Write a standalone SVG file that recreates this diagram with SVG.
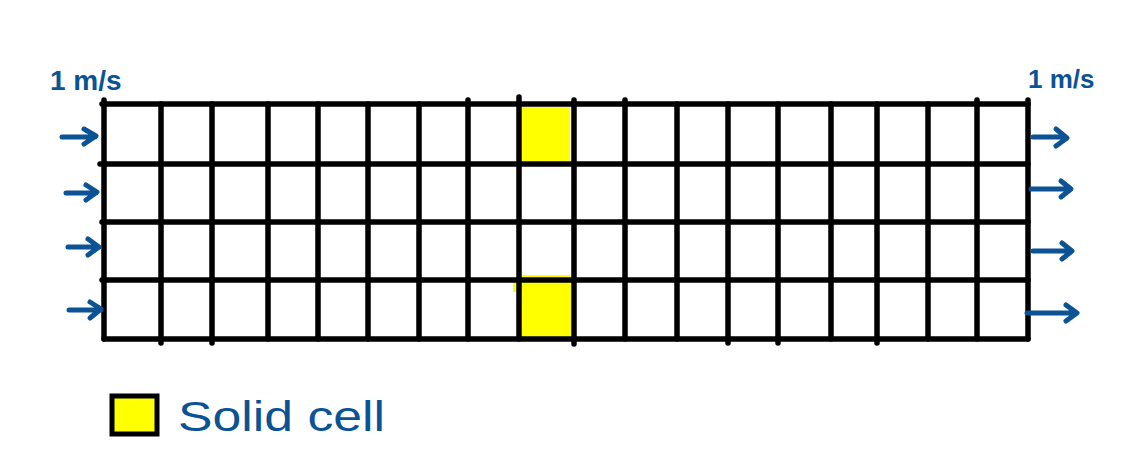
<svg xmlns="http://www.w3.org/2000/svg" width="1121" height="469" viewBox="0 0 1121 469">
<style>
.grid{stroke:#000;stroke-width:5.5;stroke-linecap:round;fill:none}
.solid{fill:#ffff00}
.lbl{font-family:"Liberation Sans",Arial,sans-serif;fill:#0b5394}
.arr{stroke:#0b5394;stroke-width:5;stroke-linecap:round;stroke-linejoin:round;fill:none}
</style>
<rect width="1121" height="469" fill="#fff"/>
<g id="solid-cells">
<rect class="solid" x="522" y="107" width="48" height="54"/>
<rect class="solid" x="522" y="275" width="50" height="63"/>
<rect class="solid" x="513" y="282" width="10" height="10"/>
</g>
<g id="grid">
<path class="grid" d="M102 104H1028 M100 164H1028 M102 222H1028 M102 280H1028 M104 339H1028"/>
<path class="grid" d="M104 100V339 M161 104V343 M212 104V343 M268 104V339 M318 104V339 M368 104V339 M419 104V339 M468 100V339 M519 97V339 M574 100V344 M625 100V339 M677 104V339 M728 104V343 M778 104V343 M831 104V339 M877 104V343 M928 104V339 M977 100V339 M1028 100V339"/>
</g>
<g id="connectors">
<path class="arr" d="M62 137H95 M84 129L96 136L84 144"/>
<path class="arr" d="M66 193H96 M86 185L97 192L86 200"/>
<path class="arr" d="M68 247H99 M88 239L99 247L88 255"/>
<path class="arr" d="M69 310H101 M90 302L101 309L90 318"/>
<path class="arr" d="M1033 137H1064 M1056 129L1067 138L1056 146"/>
<path class="arr" d="M1031 189H1068 M1061 181L1071 189L1061 197"/>
<path class="arr" d="M1033 251H1070 M1062 243L1072 251L1062 259"/>
<path class="arr" d="M1027 313H1074 M1066 305L1077 313L1066 321"/>
</g>
<g id="label-inlet">
<text class="lbl" x="50" y="90" font-size="28" font-weight="bold">1 m/s</text>
</g>
<g id="label-outlet">
<text class="lbl" x="1028" y="88" font-size="26" font-weight="bold">1 m/s</text>
</g>
<g id="legend">
<rect x="112" y="396" width="45" height="38" fill="#ffff00" stroke="#000" stroke-width="5"/>
<text class="lbl" x="178" y="431" font-size="42" textLength="207" lengthAdjust="spacingAndGlyphs">Solid cell</text>
</g>
</svg>
